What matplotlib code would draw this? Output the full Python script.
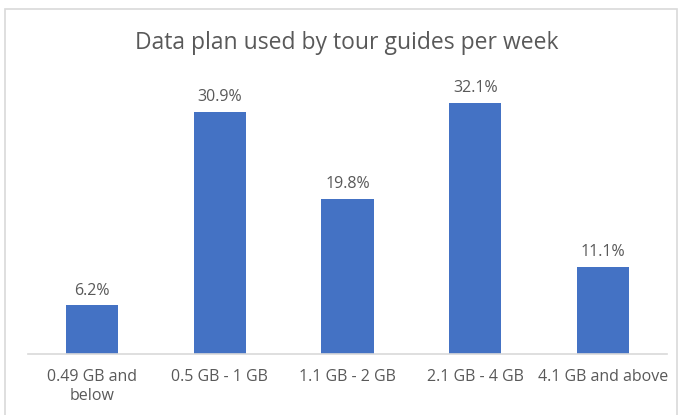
import matplotlib.pyplot as plt
from matplotlib.patches import Rectangle

categories = ["0.49 GB and\nbelow", "0.5 GB - 1 GB", "1.1 GB - 2 GB", "2.1 GB - 4 GB", "4.1 GB and above"]
shares = [6.2, 30.9, 19.8, 32.1, 11.1]

W, H = 678, 415
fig = plt.figure(figsize=(W / 100, H / 100), dpi=100)
plt.rcParams['font.family'] = ['Open Sans', 'DejaVu Sans']

# chart frame like an Excel chart area
fig.patches.append(Rectangle((5 / W, -0.01), (677 - 5) / W, (H - 9.5) / H + 0.01,
                             transform=fig.transFigure, fill=False,
                             edgecolor='#d9d9d9', linewidth=1.2))

ax = fig.add_axes([28 / W, (H - 354) / H, (667 - 28) / W, 274 / H])
x = range(len(categories))
bars = ax.bar(x, shares, width=0.41, color='#4472c4')
ax.set_xlim(-0.5, len(categories) - 0.5)
ax.set_ylim(0, 35)

for b, v in zip(bars, shares):
    ax.annotate(f"{v}%", (b.get_x() + b.get_width() / 2, v), xytext=(0, 5),
                textcoords='offset points', ha='center', va='bottom',
                fontsize=11.5, color='#595959')

ax.set_xticks(list(x))
ax.set_xticklabels(categories, fontsize=11.5, color='#595959', linespacing=1.3)
ax.tick_params(axis='x', length=0, pad=10.5)
ax.set_yticks([])
for s in ['top', 'right', 'left']:
    ax.spines[s].set_visible(False)
ax.spines['bottom'].set_color('#d9d9d9')
ax.spines['bottom'].set_linewidth(1.2)

fig.text(347 / W, (H - 43) / H, "Data plan used by tour guides per week",
         ha='center', va='center', fontsize=16.5, color='#595959')

fig.savefig("out.png", dpi=100)
